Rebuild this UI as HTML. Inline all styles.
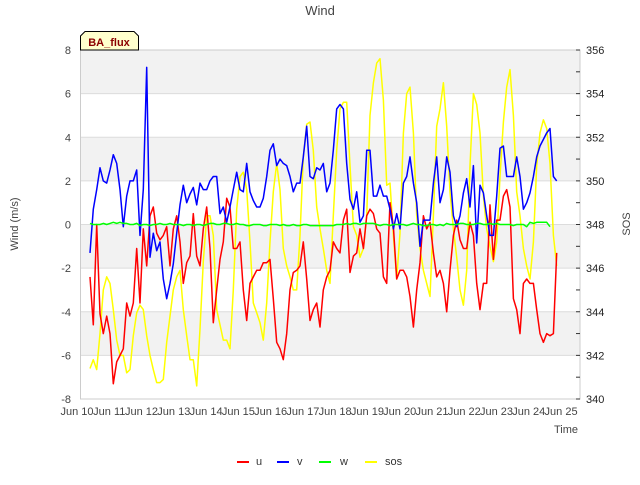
<!DOCTYPE html>
<html><head><meta charset="utf-8"><style>
body{margin:0;background:#fff;}
svg text{font-family:"Liberation Sans",sans-serif;}
</style></head><body>
<svg id="chart" width="640" height="480" xmlns="http://www.w3.org/2000/svg">
<text x="320" y="15" text-anchor="middle" font-size="13" fill="#444">Wind</text>
<g id="bands"></g>
<g id="grid"></g>
<g id="series"></g>
<rect x="80.5" y="50" width="499.5" height="349" fill="none" stroke="#ccc"/>
<g id="leftTicks"></g>
<g id="rightTicks"></g>
<g id="xTicks"></g>
<text x="18" y="224" transform="rotate(-90 18 224)" text-anchor="middle" font-size="11" fill="#444">Wind (m/s)</text>
<text x="630" y="224" transform="rotate(-90 630 224)" text-anchor="middle" font-size="11" fill="#444">SOS</text>
<text x="578" y="433" text-anchor="end" font-size="11" fill="#444">Time</text>
<g>
<path d="M80.5,50 L80.5,36 L85,31.5 L134,31.5 L138.5,36 L138.5,50 Z" fill="#ffffcc" stroke="#000" stroke-width="1"/>
<text x="109" y="46" text-anchor="middle" font-size="11" font-weight="bold" fill="#8b0000">BA_flux</text>
</g>
<g id="legend">
<g><line x1="237" y1="462" x2="249" y2="462" stroke="#ff0000" stroke-width="2"/><text x="256" y="465" font-size="11" fill="#333">u</text></g>
<g><line x1="277" y1="462" x2="289" y2="462" stroke="#0000ff" stroke-width="2"/><text x="297" y="465" font-size="11" fill="#333">v</text></g>
<g><line x1="319" y1="462" x2="331" y2="462" stroke="#00ff00" stroke-width="2"/><text x="340" y="465" font-size="11" fill="#333">w</text></g>
<g><line x1="365" y1="462" x2="377" y2="462" stroke="#ffff00" stroke-width="2"/><text x="385" y="465" font-size="11" fill="#333">sos</text></g>
</g>
</svg>
<script>
const leftTicks=[-8,-6,-4,-2,0,2,4,6,8];
const rightTicks=[340,342,344,346,348,350,352,354,356];
const dayTicks=[10,11,12,13,14,15,16,17,18,19,20,21,22,23,24,25];
const startDay=10.403;
const stepDay=0.1033;
const uVals=[-2.4,-4.6,0.0,-4.1,-5.0,-4.2,-5.0,-7.3,-6.3,-6.0,-5.7,-3.6,-4.2,-3.6,-1.1,-3.6,-0.2,-1.9,0.4,0.8,-0.4,-0.7,-0.5,-0.1,-1.9,-0.2,0.4,-0.8,-2.7,-1.75,-1.45,0.5,-1.45,
-1.9,-0.2,0.8,-1.1,-4.5,-3.0,-1.6,-0.8,1.2,0.8,-1.1,-1.1,-0.8,-3.0,-4.4,-2.7,-2.4,-2.1,-2.1,-1.75,-1.75,-1.6,-3.4,-5.4,-5.7,-6.2,-5.0,-3.0,-2.2,-2.1,-1.9,-0.8,-2.5,-4.4,-3.9,-3.6,
-4.7,-3.0,-2.4,-2.1,-0.8,-1.1,-1.3,0.2,0.7,-2.2,-1.45,-1.3,-0.2,-1.1,0.4,0.7,0.5,-0.2,-0.4,-2.4,-2.7,1.0,-0.1,-2.5,-2.1,-2.1,-2.4,-3.3,-4.7,-3.0,-1.75,0.4,-0.2,0.1,-1.3,-2.4,
-2.1,-2.7,-4.0,-2.1,-0.5,0.2,-0.7,-1.1,-1.1,0.1,-0.5,-2.7,-3.9,-2.7,-2.7,0.9,-1.6,0.2,0.2,1.3,1.6,0.8,-3.4,-3.9,-5.0,-2.7,-2.5,-2.7,-2.7,-3.9,-5.0,-5.4,-5.0,-5.1,-5.0,-1.3];
const vVals=[-1.3,0.7,1.6,2.6,2.0,1.9,2.5,3.2,2.8,1.6,-0.1,1.3,2.0,2.0,2.5,-0.5,1.6,7.2,-1.5,-0.4,-1.2,-0.8,-2.5,-3.4,-2.7,-1.8,-0.4,0.9,1.8,1.0,1.4,1.7,0.9,
1.9,1.6,1.6,2.0,2.2,2.2,0.5,0.8,0.1,0.8,1.6,2.4,1.6,1.5,2.8,1.5,1.1,0.8,0.8,1.2,2.2,3.4,3.7,2.7,3.0,2.8,2.7,2.2,1.5,1.9,1.9,3.1,4.5,2.2,2.1,2.6,
2.5,2.8,1.5,1.9,3.4,5.3,5.5,5.3,2.8,1.15,0.7,1.5,0.1,0.4,3.4,3.4,1.3,1.3,1.8,1.3,1.3,0.7,-0.2,0.5,-0.2,1.9,2.2,3.1,1.9,1.0,-1.0,0.2,0.2,0.2,1.9,3.1,
1.0,1.6,3.1,2.4,0.4,-0.1,0.4,1.45,2.1,0.8,2.7,-0.85,1.8,1.45,0.4,-0.5,-0.5,1.3,3.5,3.6,2.2,2.2,2.2,3.1,2.2,0.7,1.0,1.45,2.2,3.1,3.6,3.9,4.2,4.4,2.2,2.0];
const wVals=[0.05,0.0,0.0,0.0,0.05,0.0,0.05,0.1,0.05,0.1,0.05,0.05,0.0,0.0,0.05,-0.05,0.0,0.0,-0.05,0.0,0.0,0.05,0.0,0.0,0.05,0.0,0.0,0.0,-0.05,0.0,0.0,-0.05,0.0,
0.0,-0.05,0.0,0.05,0.05,0.0,0.0,0.05,0.05,0.0,0.0,0.05,0.0,0.0,-0.05,-0.05,0.0,0.0,0.0,-0.05,-0.05,0.0,0.0,0.0,-0.05,0.0,-0.05,-0.05,0.0,-0.05,-0.05,0.0,0.0,-0.05,
-0.05,-0.05,-0.05,-0.05,-0.05,-0.05,-0.05,0.0,0.0,0.0,0.05,0.0,0.05,0.05,0.0,0.05,0.05,0.05,0.05,0.0,-0.05,0.0,0.0,-0.05,0.0,0.0,0.0,0.0,-0.05,0.0,0.05,0.0,0.0,-0.05,-0.05,0.0,
0.0,-0.05,0.0,-0.05,0.05,0.0,0.0,0.0,0.05,0.05,0.0,0.0,0.0,0.05,0.05,0.0,0.0,0.05,0.0,0.05,0.0,0.0,0.0,0.0,-0.05,0.0,0.0,0.0,-0.1,0.1,0.05,0.1,0.1,0.1,0.1,-0.1];
const sosVals=[341.4,341.8,341.35,343.0,345.0,345.6,345.3,344.1,342.7,342.0,342.0,341.2,341.35,342.9,343.95,344.3,344.1,342.9,342.0,341.35,340.75,340.75,340.9,342.6,343.8,345.0,345.6,345.9,344.1,342.9,341.8,341.8,340.6,
343.2,346.3,348.4,348.4,347.5,344.1,343.4,342.7,342.7,342.3,345.0,348.7,350.2,350.4,349.6,347.2,344.4,343.95,343.5,342.7,344.4,347.2,349.5,350.8,349.6,346.9,346.1,345.6,345.0,345.0,347.5,351.1,352.6,352.7,351.4,348.8,
347.8,346.9,345.9,345.3,348.4,351.4,353.3,353.6,353.6,350.7,347.9,347.5,346.5,346.9,348.4,353.0,354.5,355.4,355.6,353.7,349.8,349.9,347.5,345.5,347.6,352.2,354.0,354.3,352.2,348.4,346.9,345.9,345.3,344.7,348.4,352.5,
353.3,354.5,352.5,349.5,347.8,346.5,345.0,344.3,345.9,350.7,354.0,353.5,352.2,349.3,347.8,347.0,346.3,347.2,350.2,352.7,354.3,355.1,353.0,349.5,348.4,346.9,346.1,345.5,347.2,350.7,352.2,352.8,352.4,350.8,347.5,346.1];

const NS='http://www.w3.org/2000/svg';
const X0=80.5,X1=580,Y0=50,Y1=399;
function xScale(d){return 77+(d-10)*32.27;}
function yL(v){return Y1-(v+8)/16*(Y1-Y0);}
function yR(s){return Y1-(s-340)/16*(Y1-Y0);}
function mk(tag,attrs,parent){const e=document.createElementNS(NS,tag);for(const k in attrs)e.setAttribute(k,attrs[k]);parent.appendChild(e);return e;}
const bands=document.getElementById('bands');
for(let i=0;i<leftTicks.length-1;i++){
  const lo=leftTicks[i],hi=leftTicks[i+1];
  const r=mk('rect',{x:X0,y:yL(hi),width:X1-X0,height:yL(lo)-yL(hi),fill:(i%2===1)?'#f2f2f2':'#ffffff'},bands);
  
  
}
const grid=document.getElementById('grid');
const lt=document.getElementById('leftTicks');
leftTicks.forEach(v=>{
  const l=mk('line',{x1:X0,x2:X1,y1:yL(v),y2:yL(v),stroke:'#dcdcdc','stroke-width':1},grid);
  
  
  const t=mk('text',{x:71,y:yL(v)+4,'text-anchor':'end','font-size':11,fill:'#444'},lt);
  t.textContent=v;
  
  
});
const rt=document.getElementById('rightTicks');
for(let s=340;s<=356;s++){
  const l=mk('line',{x1:576,x2:580,y1:yR(s),y2:yR(s),stroke:'#333','stroke-width':1},rt);
  
  
}
rightTicks.forEach(s=>{
  const t=mk('text',{x:586,y:yR(s)+4,'font-size':11,fill:'#222'},rt);
  t.textContent=s;
  
  
});
const xt=document.getElementById('xTicks');
dayTicks.forEach(d=>{
  const t=mk('text',{x:xScale(d),y:415,'text-anchor':'middle','font-size':11,fill:'#444'},xt);
  t.textContent='Jun '+d;
  
  
});
const ser=document.getElementById('series');
function draw(vals,yf,color,name){
  const pts=vals.map((v,i)=>xScale(startDay+i*stepDay).toFixed(1)+','+yf(v).toFixed(1)).join(' ');
  const p=mk('polyline',{points:pts,fill:'none',stroke:color,'stroke-width':1.5,'stroke-linejoin':'round'},ser);
  
  
}
draw(sosVals,yR,'#ffff00','sos-line');
draw(uVals,yL,'#ff0000','u-line');
draw(vVals,yL,'#0000ff','v-line');
draw(wVals,yL,'#00ff00','w-line');
</script>
</body></html>
